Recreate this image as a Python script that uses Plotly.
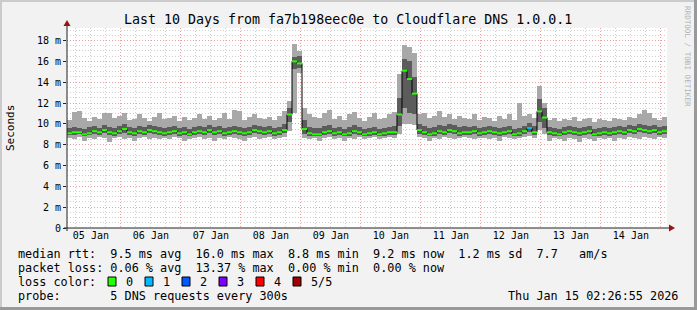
import plotly.graph_objects as go
from datetime import datetime, timedelta

# ---------------- data (milliseconds) ----------------
start = datetime(2026, 1, 5, 2, 26, 55)
end = datetime(2026, 1, 15, 2, 26, 55)
step_hours = 2

median = [9.1, 9.2, 9.2, 9.0, 9.1, 9.3, 9.2, 9.4, 9.2, 9.1,
          9.3, 9.5, 9.2, 9.1, 9.3, 9.2, 9.4, 9.3, 9.2, 9.1,
          9.2, 9.3, 9.1, 9.2, 9.0, 9.2, 9.3, 9.2, 9.4, 9.2,
          9.3, 9.1, 9.2, 9.3, 9.2, 9.1, 9.2, 9.4, 9.3, 9.2,
          9.3, 9.1, 9.2, 9.4, 10.9, 16.0, 15.8, 9.5, 9.1, 9.0,
          9.0, 9.2, 9.3, 9.1, 9.2, 9.0, 9.1, 9.3, 9.2, 9.0,
          9.1, 9.2, 9.0, 9.1, 9.2, 9.2, 10.9, 15.1, 14.3, 12.9,
          9.4, 9.2, 9.0, 9.1, 9.3, 9.2, 9.4, 9.3, 9.1, 9.2,
          9.2, 9.3, 9.1, 9.2, 9.3, 9.2, 9.1, 9.2, 9.3, 9.0,
          9.1, 9.3, 9.6, 9.2, 11.2, 10.6, 9.2, 9.1, 9.0, 9.2,
          9.3, 9.2, 9.1, 9.2, 9.3, 9.0, 9.1, 9.2, 9.1, 9.2,
          9.3, 9.2, 9.4, 9.3, 9.5, 9.4, 9.3, 9.4, 9.2, 9.3]

ping_lo = [8.6, 8.5, 8.7, 8.4, 8.6, 8.5, 8.7, 8.6, 8.3, 8.6,
           8.7, 8.5, 8.6, 8.4, 8.6, 8.7, 8.5, 8.6, 8.5, 8.6,
           8.5, 8.7, 8.6, 8.4, 8.5, 8.6, 8.7, 8.5, 8.6, 8.4,
           8.6, 8.5, 8.7, 8.6, 8.5, 8.4, 8.6, 8.7, 8.5, 8.6,
           8.7, 8.5, 8.6, 8.7, 9.3, 11.0, 14.9, 8.6, 8.5, 8.6,
           8.4, 8.6, 8.7, 8.5, 8.6, 8.4, 8.6, 8.5, 8.7, 8.5,
           8.6, 8.7, 8.5, 8.6, 8.7, 8.6, 9.0, 10.0, 10.0, 9.9,
           8.7, 8.6, 8.4, 8.6, 8.5, 8.7, 8.6, 8.5, 8.6, 8.7,
           8.6, 8.5, 8.7, 8.6, 8.5, 8.6, 8.4, 8.7, 8.6, 8.5,
           8.6, 8.7, 8.8, 8.6, 9.4, 9.0, 8.4, 8.6, 8.5, 8.4,
           8.6, 8.5, 8.3, 8.6, 8.5, 8.4, 8.6, 8.5, 8.6, 8.4,
           8.6, 8.5, 8.7, 8.6, 8.5, 8.7, 8.6, 8.5, 8.7, 8.6]

ping_q1 = [8.9, 8.9, 9.0, 8.8, 8.9, 9.0, 8.9, 9.1, 8.9, 8.8,
           9.0, 9.1, 8.9, 8.8, 9.0, 8.9, 9.1, 9.0, 8.9, 8.8,
           8.9, 9.0, 8.8, 8.9, 8.8, 8.9, 9.0, 8.9, 9.1, 8.9,
           9.0, 8.8, 8.9, 9.0, 8.9, 8.8, 8.9, 9.1, 9.0, 8.9,
           9.0, 8.8, 8.9, 9.1, 10.2, 15.3, 15.4, 9.0, 8.8, 8.8,
           8.8, 8.9, 9.0, 8.8, 8.9, 8.8, 8.8, 9.0, 8.9, 8.8,
           8.8, 8.9, 8.8, 8.8, 8.9, 8.9, 9.8, 11.5, 11.0, 10.9,
           9.0, 8.9, 8.8, 8.8, 9.0, 8.9, 9.1, 9.0, 8.8, 8.9,
           8.9, 9.0, 8.8, 8.9, 9.0, 8.9, 8.8, 8.9, 9.0, 8.8,
           8.8, 9.0, 9.2, 8.9, 10.2, 9.6, 8.9, 8.8, 8.8, 8.9,
           9.0, 8.9, 8.8, 8.9, 9.0, 8.8, 8.8, 8.9, 8.8, 8.9,
           9.0, 8.9, 9.1, 9.0, 9.2, 9.1, 9.0, 9.1, 8.9, 9.0]

ping_q3 = [9.6, 9.7, 9.6, 9.5, 9.7, 9.8, 9.6, 9.9, 9.7, 9.6,
           9.8, 10.0, 9.7, 9.6, 9.8, 9.7, 9.9, 9.8, 9.7, 9.6,
           9.7, 9.8, 9.6, 9.7, 9.5, 9.7, 9.8, 9.7, 9.9, 9.7,
           9.8, 9.6, 9.7, 9.8, 9.7, 9.6, 9.7, 9.9, 9.8, 9.7,
           9.8, 9.6, 9.7, 10.0, 11.5, 16.4, 16.5, 10.4, 9.7, 9.6,
           9.6, 9.8, 9.9, 9.6, 9.7, 9.5, 9.7, 9.9, 9.7, 9.5,
           9.6, 9.7, 9.5, 9.6, 9.7, 9.8, 12.5, 16.2, 16.0, 14.5,
           10.0, 9.8, 9.6, 9.7, 9.9, 9.8, 10.0, 9.9, 9.7, 9.8,
           9.7, 9.8, 9.6, 9.7, 9.8, 9.7, 9.6, 9.7, 9.8, 9.5,
           9.6, 9.8, 10.1, 9.8, 12.4, 11.5, 9.7, 9.6, 9.5, 9.7,
           9.8, 9.7, 9.6, 9.7, 9.8, 9.5, 9.6, 9.7, 9.6, 9.7,
           9.8, 9.7, 9.9, 9.8, 10.0, 9.9, 9.8, 9.9, 9.7, 9.8]

ping_hi = [10.4, 11.1, 11.2, 10.6, 10.3, 10.7, 10.5, 11.0, 11.0, 10.6,
           10.8, 11.0, 10.4, 10.5, 10.9, 10.6, 10.3, 10.7, 11.0, 10.5,
           10.6, 10.8, 10.3, 10.7, 10.4, 10.6, 10.9, 10.5, 10.8, 10.4,
           10.6, 11.0, 10.5, 11.3, 11.2, 10.4, 10.7, 10.9, 10.6, 10.5,
           10.7, 10.4, 10.8, 11.2, 12.2, 17.7, 17.0, 11.5, 10.9, 10.7,
           10.6, 11.0, 11.3, 10.5, 10.8, 10.4, 10.9, 11.1, 10.6, 10.3,
           10.7, 11.0, 10.5, 10.6, 10.9, 11.1, 14.8, 17.6, 17.4, 16.8,
           10.9, 11.0, 10.6, 10.8, 11.2, 10.7, 10.9, 10.5, 10.8, 10.6,
           10.5, 10.9, 10.4, 10.7, 10.6, 10.3, 10.8, 10.5, 10.9, 10.4,
           12.0, 10.8, 10.9, 10.6, 13.6, 12.0, 10.4, 10.6, 10.3, 10.5,
           10.4, 10.7, 10.3, 10.5, 10.6, 10.2, 10.5, 10.4, 10.3, 10.6,
           10.5, 10.4, 10.7, 10.6, 10.9, 11.3, 11.0, 10.6, 10.4, 10.7]

loss = [0, 0, 0, 0, 0, 0, 0, 0, 0, 0, 0, 0, 0, 0, 0, 0, 0, 0, 0, 0,
        0, 0, 0, 0, 0, 0, 0, 0, 0, 0, 0, 0, 0, 0, 0, 0, 0, 0, 0, 0,
        0, 0, 0, 0, 0, 0, 0, 0, 0, 0, 0, 0, 0, 0, 0, 0, 0, 0, 0, 0,
        0, 0, 0, 0, 0, 0, 0, 0, 0, 0, 0, 0, 0, 0, 0, 0, 0, 0, 0, 0,
        0, 0, 0, 0, 0, 0, 0, 0, 0, 0, 0, 0, 1, 0, 0, 0, 0, 0, 0, 0,
        0, 0, 0, 0, 0, 0, 0, 0, 0, 0, 0, 0, 0, 0, 0, 0, 0, 0, 0, 0]

y_tick_values = [0, 2, 4, 6, 8, 10, 12, 14, 16, 18]
y_tick_labels = ["0", "2 m", "4 m", "6 m", "8 m", "10 m", "12 m", "14 m", "16 m", "18 m"]

loss_levels = ["0", "1", "2", "3", "4", "5/5"]
loss_colors = ["#26ff00", "#00b8ff", "#0059ff", "#7e00ff", "#ff0000", "#a10000"]

title = "Last 10 Days from fa7b198eec0e to Cloudflare DNS 1.0.0.1"
legend_lines = [
    "median rtt:  9.5 ms avg  16.0 ms max  8.8 ms min  9.2 ms now  1.2 ms sd  7.7   am/s",
    "packet loss: 0.06 % avg  13.37 % max  0.00 % min  0.00 % now",
    "loss color:",
    "probe:       5 DNS requests every 300s",
]
stamp = "Thu Jan 15 02:26:55 2026"
watermark = "RRDTOOL / TOBI OETIKER"

# ---------------- geometry ----------------
W, H = 697, 310
L, R, T, B = 67, 667, 28, 228
FONT = "DejaVu Sans Mono"


def px(x):
    return (x - L) / (R - L)


def py(y):
    return (B - y) / (B - T)


def nb(s):
    return s.replace(" ", "\u00a0")


n = len(median)
times = [start + timedelta(hours=step_hours * i) for i in range(n)]
centers = [t + timedelta(hours=step_hours / 2) for t in times]
wms = step_hours * 3600 * 1000

fig = go.Figure()


def smoke(lo, hi, color):
    fig.add_trace(go.Bar(
        x=centers, y=[h - l for l, h in zip(lo, hi)], base=lo,
        width=[wms] * n, marker=dict(color=color, line=dict(width=0)),
        hoverinfo="skip", showlegend=False))


smoke(ping_lo, ping_q1, "#a8a8a8")
smoke(ping_q1, ping_q3, "#5c5c5c")
smoke(ping_q3, ping_hi, "#a8a8a8")

# median step line (black)
fig.add_trace(go.Scatter(
    x=times + [end], y=median + [median[-1]], mode="lines",
    line=dict(color="#000000", width=1, shape="hv"),
    hoverinfo="skip", showlegend=False))

# median segments coloured by loss
for lvl, col in enumerate(loss_colors):
    xs, ys = [], []
    for i in range(n):
        if loss[i] == lvl:
            xs += [times[i], times[i] + timedelta(hours=step_hours), None]
            ys += [median[i], median[i], None]
    if xs:
        fig.add_trace(go.Scatter(
            x=xs, y=ys, mode="lines", line=dict(color=col, width=2),
            hoverinfo="skip", showlegend=False))

shapes = []
# frame
shapes.append(dict(type="rect", xref="paper", yref="paper",
                   x0=px(0), x1=px(W), y0=py(2), y1=py(0),
                   line=dict(width=0), fillcolor="#cbcbcb", layer="below"))
shapes.append(dict(type="rect", xref="paper", yref="paper",
                   x0=px(0), x1=px(2), y0=py(H), y1=py(0),
                   line=dict(width=0), fillcolor="#cbcbcb", layer="below"))
shapes.append(dict(type="rect", xref="paper", yref="paper",
                   x0=px(0), x1=px(W), y0=py(H), y1=py(H - 3),
                   line=dict(width=0), fillcolor="#999999", layer="above"))
shapes.append(dict(type="rect", xref="paper", yref="paper",
                   x0=px(W - 3), x1=px(W), y0=py(H), y1=py(0),
                   line=dict(width=0), fillcolor="#999999", layer="above"))
# axes lines
shapes.append(dict(type="line", xref="paper", yref="paper",
                   x0=px(L), x1=px(L), y0=py(B + 3), y1=py(T - 2),
                   line=dict(color="#222222", width=1)))
shapes.append(dict(type="line", xref="paper", yref="paper",
                   x0=px(L - 3), x1=px(R + 2), y0=py(B), y1=py(B),
                   line=dict(color="#222222", width=1)))
# arrows
shapes.append(dict(type="path", xref="paper", yref="paper",
                   path="M {} {} L {} {} L {} {} Z".format(
                       px(L - 3.5), py(T - 2), px(L + 3.5), py(T - 2), px(L), py(T - 8)),
                   line=dict(width=0), fillcolor="#9b1111"))
shapes.append(dict(type="path", xref="paper", yref="paper",
                   path="M {} {} L {} {} L {} {} Z".format(
                       px(R + 2), py(B - 3.5), px(R + 2), py(B + 3.5), px(R + 8), py(B)),
                   line=dict(width=0), fillcolor="#9b1111"))
# loss colour boxes
for k, col in enumerate(loss_colors):
    bx = 108 + 37 * k
    shapes.append(dict(type="rect", xref="paper", yref="paper",
                       x0=px(bx), x1=px(bx + 8), y0=py(286), y1=py(277),
                       line=dict(color="#000000", width=1), fillcolor=col))

annotations = []
annotations.append(dict(text=nb(title), xref="paper", yref="paper",
                        x=px(348), y=py(19), xanchor="center", yanchor="middle",
                        showarrow=False, font=dict(family=FONT, size=13.3, color="#000")))
annotations.append(dict(text="Seconds", xref="paper", yref="paper",
                        x=px(10), y=py(128), xanchor="center", yanchor="middle",
                        textangle=-90, showarrow=False,
                        font=dict(family=FONT, size=11, color="#000")))
for j, line in enumerate(legend_lines):
    annotations.append(dict(text=nb(line), xref="paper", yref="paper",
                            x=px(16), y=py(254 + 14 * j), xanchor="left", yanchor="middle",
                            showarrow=False, font=dict(family=FONT, size=11.8, color="#000")))
for k, lab in enumerate(loss_levels):
    bx = 108 + 37 * k
    annotations.append(dict(text=lab, xref="paper", yref="paper",
                            x=px(bx + 15.5), y=py(282), xanchor="left", yanchor="middle",
                            showarrow=False, font=dict(family=FONT, size=11.8, color="#000")))
annotations.append(dict(text=nb(stamp), xref="paper", yref="paper",
                        x=px(680), y=py(296), xanchor="right", yanchor="middle",
                        showarrow=False, font=dict(family=FONT, size=11.8, color="#000")))
annotations.append(dict(text=nb(watermark), xref="paper", yref="paper",
                        x=px(688), y=py(56), xanchor="center", yanchor="middle",
                        textangle=90, showarrow=False,
                        font=dict(family=FONT, size=7.6, color="#b4b4b4")))

fig.update_layout(
    width=W, height=H,
    margin=dict(l=L, r=W - R, t=T, b=H - B, pad=0),
    paper_bgcolor="#f2f2f2", plot_bgcolor="#ffffff",
    barmode="overlay", bargap=0, showlegend=False,
    shapes=shapes, annotations=annotations,
    xaxis=dict(
        type="date", range=[start, end],
        tick0="2026-01-05", dtick=86400000, tickformat="%d %b",
        ticklabelmode="period", ticks="", showline=False, zeroline=False,
        showgrid=True, gridcolor="#e6a2a2", griddash="1px,2px", gridwidth=1,
        tickfont=dict(family=FONT, size=10, color="#000"),
        minor=dict(tick0="2026-01-05", dtick=21600000, showgrid=True,
                   gridcolor="#cfcfcf", griddash="1px,2px", gridwidth=1),
    ),
    yaxis=dict(
        range=[0, 19.2], tickmode="array", tickvals=y_tick_values, ticktext=y_tick_labels,
        ticks="outside", ticklen=3, tickcolor="#222222", showline=False, zeroline=False,
        showgrid=True, gridcolor="#e6a2a2", griddash="1px,2px", gridwidth=1,
        tickfont=dict(family=FONT, size=10, color="#000"),
        minor=dict(tickmode="linear", tick0=0, dtick=0.5, showgrid=True,
                   gridcolor="#cfcfcf", griddash="1px,2px", gridwidth=1),
    ),
)

fig.write_html("out.html")
